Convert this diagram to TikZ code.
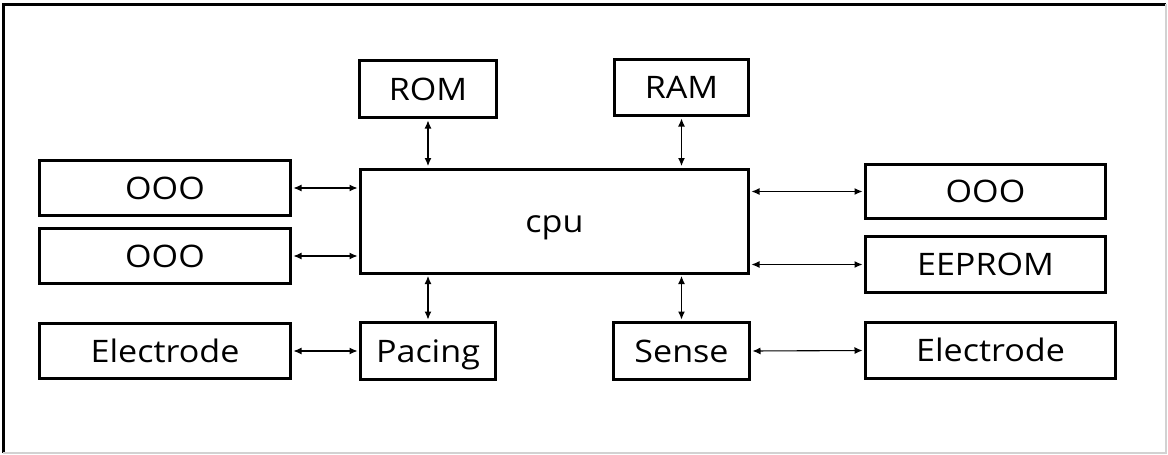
\documentclass[tikz,border=0pt]{standalone}
\usepackage{fontspec}
\setmainfont[FakeStretch=1.1]{Open Sans}
\usetikzlibrary{arrows.meta}
\begin{document}
\begin{tikzpicture}[x=1pt,y=-1pt,
  blk/.style={draw, line width=3pt, inner sep=0pt, font=\fontsize{31}{36}\selectfont, text=black,
    text height=22pt, text depth=0pt},
  con/.style={line width=1.1pt, shorten >=1.5pt, shorten <=1.5pt,
    {Latex[length=8pt,width=7pt]}-{Latex[length=8pt,width=7pt]}}]
\useasboundingbox (0,0) rectangle (1168,455);
\draw[line width=3pt] (3,453) -- (3,4) -- (1166,4);
\draw[gray!35, line width=1.5pt] (1166,4) -- (1166,453) -- (3,453);
% top
\node[blk, minimum width=137pt, minimum height=57pt] (rom) at (428,89) {ROM};
\node[blk, minimum width=134pt, minimum height=56pt] (ram) at (681.5,87.5) {RAM};
% cpu
\node[blk, minimum width=388pt, minimum height=104pt] (cpu) at (554.5,221) {cpu};
% left
\node[blk, minimum width=251pt, minimum height=55pt] (l1) at (165,188) {OOO};
\node[blk, minimum width=251pt, minimum height=55pt] (l2) at (165,256) {OOO};
\node[blk, minimum width=251pt, minimum height=55pt] (el) at (165,351) {Electrode};
% bottom middle
\node[blk, minimum width=135pt, minimum height=57pt] (pac) at (428,351) {Pacing};
\node[blk, minimum width=136pt, minimum height=57pt] (sen) at (681.5,351) {Sense};
% right
\node[blk, minimum width=240pt, minimum height=54pt] (r1) at (985.5,191.5) {OOO};
\node[blk, minimum width=240pt, minimum height=56pt] (ee) at (985.5,264.5) {EEPROM};
\node[blk, minimum width=250pt, minimum height=56pt] (er) at (990.5,350.5) {Electrode};
% connectors
\draw[con] (rom.south) -- (rom.south |- cpu.north);
\draw[con] (ram.south) -- (ram.south |- cpu.north);
\draw[con] (pac.north) -- (pac.north |- cpu.south);
\draw[con] (sen.north) -- (sen.north |- cpu.south);
\draw[con] (l1.east) -- (l1.east -| cpu.west);
\draw[con] (l2.east) -- (l2.east -| cpu.west);
\draw[con] (r1.west) -- (r1.west -| cpu.east);
\draw[con] (ee.west) -- (ee.west -| cpu.east);
\draw[con] (el.east) -- (pac.west);
\draw[con] (sen.east) -- (er.west);
\end{tikzpicture}
\end{document}
